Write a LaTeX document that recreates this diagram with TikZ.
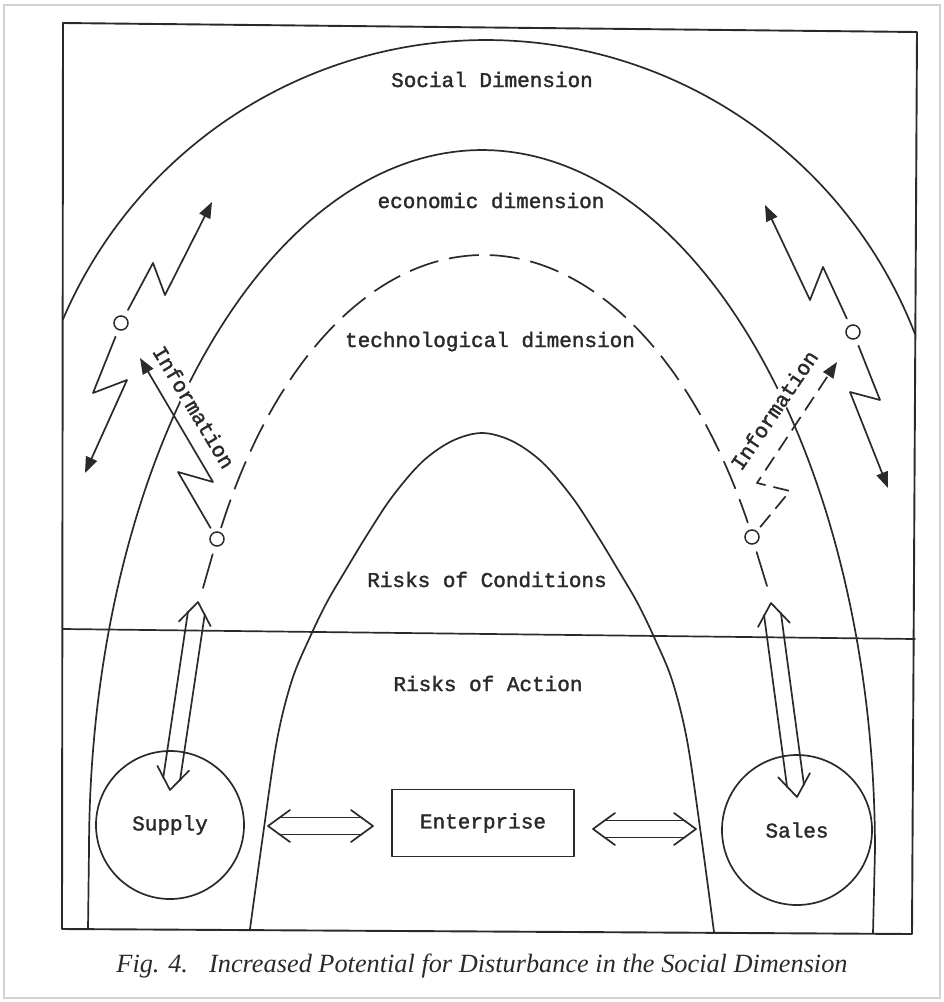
\documentclass[tikz,border=0pt]{standalone}
\usepackage{fontspec}
\setmainfont{Liberation Serif}
\setmonofont{Liberation Mono}
\newfontfamily\typew[FakeBold=1.6]{Liberation Mono}
\usetikzlibrary{arrows.meta,calc,shapes.geometric}
\definecolor{ink}{HTML}{2A2A2A}
\tikzset{
  ln/.style={line width=1.7pt, draw=ink, line cap=round, line join=round},
  lbl/.style={font=\typew\fontsize{21}{25}\selectfont, text=ink, inner sep=1pt},
  dot/.style={circle, draw=ink, line width=1.5pt, minimum size=14pt, inner sep=0pt},
  bolt/.style={ln, -{Triangle[length=16pt,width=12pt]}},
  techdash/.style={ln, line cap=butt, dash pattern=on 30pt off 11pt},
  infodash/.style={ln, line cap=butt, dash pattern=on 16pt off 8pt, -{Triangle[length=16pt,width=12pt]}},
  roundbox/.style={circle, ln, lbl, minimum size=148pt},
}
\newcommand\hollowarrow[2]{%
  \coordinate (#1h) at ($(#1)!22pt!(#2)$);
  \coordinate (#1s) at ($(#1)!11pt!(#2)$);
  \coordinate (#2h) at ($(#2)!22pt!(#1)$);
  \coordinate (#2s) at ($(#2)!11pt!(#1)$);
  \draw[ln] ($(#1h)!16pt!90:(#2)$) -- (#1) -- ($(#1h)!16pt!-90:(#2)$);
  \draw[ln] ($(#2h)!16pt!90:(#1)$) -- (#2) -- ($(#2h)!16pt!-90:(#1)$);
  \draw[ln] ($(#1s)!8.5pt!90:(#2)$) -- ($(#2s)!8.5pt!-90:(#1)$);
  \draw[ln] ($(#1s)!8.5pt!-90:(#2)$) -- ($(#2s)!8.5pt!90:(#1)$);
}
\begin{document}
\begin{tikzpicture}[x=1pt,y=-1pt]
\useasboundingbox (0,0) rectangle (944,1002);
% outer gray frame
\draw[gray!35, line width=1.5pt] (4,5) rectangle (940,998);
% main frame
\draw[ln, line width=1.9pt] (63,23) -- (917,32) -- (912,934) -- (62,929) -- cycle;
% divider
\draw[ln] (63,629) -- (915,639);
% social arc
\draw[ln] plot[domain=203.13:338.84, samples=150, variable=\t] ({486+460*cos(\t)}, {500+460*sin(\t)});
% economic arc
\draw[ln] (88,929) -- (89,850) -- plot[domain=180:360, samples=150, variable=\t] ({482+393*cos(\t)}, {850+700*sin(\t)}) -- (873,933);
% risks arc
\draw[ln] plot[smooth, tension=0.55] coordinates {(250,929) (263,835) (277,740) (292,680) (310,637) (327,602) (347,568) (367,535) (392,497) (422,462) (452,441) (482,433) (512,441) (542,462) (572,497) (597,535) (617,568) (637,602) (654,637) (672,680) (687,740) (701,835) (714,932)};
% small circles
\node[dot] (dotL1) at (121,323) {};
\node[dot] (dotR1) at (853,332) {};
\node[dot] (dotL2) at (217,539) {};
\node[dot] (dotR2) at (752,537) {};
% technological dashed arc (ellipse)
\draw[techdash] plot[domain=209.3:328.8, samples=150, variable=\t] ({487+305*cos(\t)}, {800+545*sin(\t)+0.02*305*cos(\t)});
\draw[ln, shorten <=8pt] (dotL2) -- (203,588);
\draw[ln, shorten <=8pt] (dotR2) -- (767,586);
% labels
\node[lbl, anchor=base] (social) at (492,87) {Social Dimension};
\node[lbl, anchor=base] (econ) at (491,208) {economic dimension};
\node[lbl, anchor=base] (tech) at (490,347) {technological dimension};
\node[lbl, anchor=base] (rcond) at (487,587) {Risks of Conditions};
\node[lbl, anchor=base] (raction) at (488,691) {Risks of Action};
% lightning arrows
\coordinate (tipLU) at (212,202);
\coordinate (tipLD) at (85,473);
\coordinate (tipRU) at (765,205);
\coordinate (tipRD) at (888,488);
\coordinate (tipLI) at (140,358);
\coordinate (tipRI) at (837,362);
\draw[bolt, shorten <=7pt] (dotL1) -- (153,263) -- (165,295) -- (tipLU);
\draw[bolt, shorten <=7pt] (dotL1) -- (93,393) -- (127,380) -- (tipLD);
\draw[bolt, shorten <=7pt] (dotR1) -- (823,267) -- (810,300) -- (tipRU);
\draw[bolt, shorten <=7pt] (dotR1) -- (880,400) -- (850,392) -- (tipRD);
\draw[bolt, shorten <=5pt] (dotL2) -- (178,472) -- (213,482) -- (tipLI);
\draw[infodash, shorten <=5pt] (dotR2) -- (790,491) -- (757,483) -- (tipRI);
\node[lbl, rotate=-59, fill=white, inner sep=1pt] (infoL) at (194,407) {Information};
\node[lbl, rotate=56, fill=white, inner sep=1pt] (infoR) at (774,410) {Information};
% bottom nodes
\node[roundbox] (supply) at (170,825) {Supply};
\node[roundbox, minimum size=150pt] (sales) at (797,830) {Sales};
\node[rectangle, ln, lbl, minimum width=182pt, minimum height=67pt] (ent) at (483,823) {Enterprise};
% hollow arrows
\coordinate (hLa) at (268,826);
\coordinate (hLb) at (373,826);
\coordinate (hRa) at (593,829);
\coordinate (hRb) at (696,829);
\coordinate (vLa) at (198,602);
\coordinate (vLb) at (170,790);
\coordinate (vRa) at (771,603);
\coordinate (vRb) at (797,797);
\hollowarrow{hLa}{hLb}
\hollowarrow{hRa}{hRb}
\hollowarrow{vLa}{vLb}
\hollowarrow{vRa}{vRb}
% caption
\node[anchor=base, text=ink, inner sep=0pt] (caption) at (482,972) {\resizebox{731pt}{!}{\itshape Fig. 4.\hspace{0.8em}Increased Potential for Disturbance in the Social Dimension}};
\end{tikzpicture}
\end{document}
